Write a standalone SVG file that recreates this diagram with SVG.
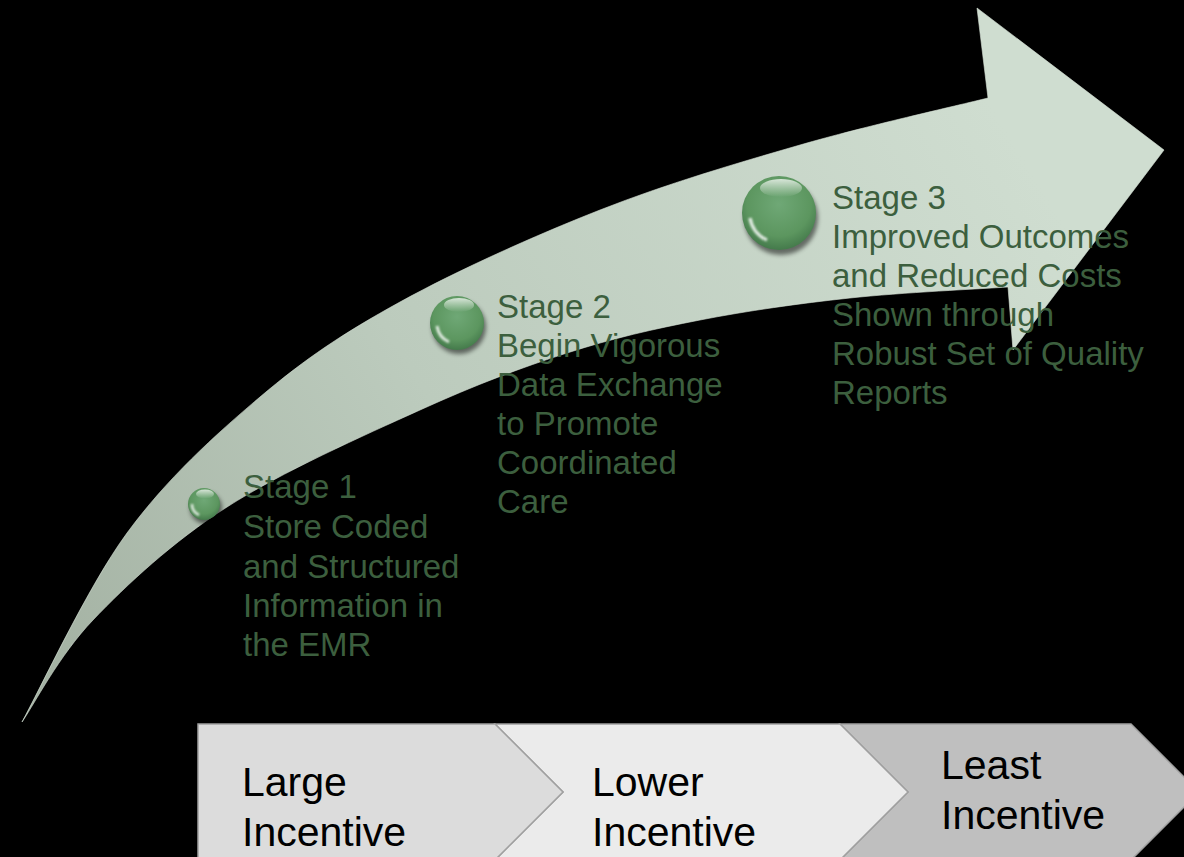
<svg xmlns="http://www.w3.org/2000/svg" width="1184" height="857" viewBox="0 0 1184 857">
  <defs>
    <linearGradient id="arrowFill" gradientUnits="userSpaceOnUse" x1="22" y1="722" x2="1000" y2="120">
      <stop offset="0" stop-color="#a2b0a1"/>
      <stop offset="0.45" stop-color="#bccbbd"/>
      <stop offset="1" stop-color="#cfddd0"/>
    </linearGradient>
    <radialGradient id="ball" cx="0.5" cy="0.38" r="0.62">
      <stop offset="0" stop-color="#6fa876"/>
      <stop offset="0.7" stop-color="#5c965f"/>
      <stop offset="1" stop-color="#447a4b"/>
    </radialGradient>
    <linearGradient id="topShine" x1="0" y1="0" x2="0" y2="1">
      <stop offset="0" stop-color="#ffffff" stop-opacity="0.75"/>
      <stop offset="1" stop-color="#ffffff" stop-opacity="0"/>
    </linearGradient>
    <filter id="shadow" x="-30%" y="-30%" width="160%" height="160%">
      <feGaussianBlur stdDeviation="2"/>
    </filter>
    <filter id="soft" x="-30%" y="-30%" width="160%" height="160%">
      <feGaussianBlur stdDeviation="0.8"/>
    </filter>
  </defs>
  <style>
    .stage { font-family: "Liberation Sans", Arial, sans-serif; font-size: 33px; fill: #3c5f3e; }
    .chev { stroke: #a0a0a0; stroke-width: 1.5; }
    .ctext { font-family: "Liberation Sans", Arial, sans-serif; font-size: 41px; fill: #000; }
  </style>

  <rect x="0" y="0" width="1184" height="857" fill="#000"/>

  <g id="arrow">
    <path fill="url(#arrowFill)" stroke="#d8e4d9" stroke-width="1" stroke-opacity="0.6"
      d="M22,722
         C39.5,690.5 87.3,587.2 127,533
         C166.7,478.8 214.5,435.5 260,397
         C305.5,358.5 343.3,333.2 400,302
         C456.7,270.8 533.3,236.2 600,210
         C666.7,183.8 735.3,163.7 800,145
         C864.7,126.3 956.7,105.8 988,98
         L977,8 L1164,150 L1013,350 L1008,287
         C981.7,288.8 901.3,292.5 850,298
         C798.7,303.5 747.2,310.8 700,320
         C652.8,329.2 613.7,338 567,353
         C520.3,368 476.7,384.3 420,410
         C363.3,435.7 281.5,472 227,507
         C172.5,542 127.2,584.2 93,620
         C58.8,655.8 33.8,705 22,722 Z"/>
  </g>

  <g id="stage1">
    <circle cx="206" cy="508" r="16" fill="#000" opacity="0.5" filter="url(#shadow)"/>
    <circle cx="204" cy="504" r="16" fill="url(#ball)"/>
    <ellipse cx="205" cy="494" rx="9" ry="4.5" fill="url(#topShine)"/>
    <path d="M192,504 A12,12 0 0 0 199,515" fill="none" stroke="#ffffff" stroke-opacity="0.8" stroke-width="2.5" filter="url(#soft)"/>
    <text class="stage" x="243" y="498">Stage 1</text>
    <text class="stage" x="243" y="538">Store Coded</text>
    <text class="stage" x="243" y="578">and Structured</text>
    <text class="stage" x="243" y="617">Information in</text>
    <text class="stage" x="243" y="656">the EMR</text>
  </g>

  <g id="stage2">
    <circle cx="459" cy="327" r="27" fill="#000" opacity="0.5" filter="url(#shadow)"/>
    <circle cx="457" cy="323" r="27" fill="url(#ball)"/>
    <ellipse cx="459" cy="305" rx="15" ry="7" fill="url(#topShine)"/>
    <path d="M437,326 A21,21 0 0 0 449,342" fill="none" stroke="#ffffff" stroke-opacity="0.8" stroke-width="3" filter="url(#soft)"/>
    <text class="stage" x="497" y="318">Stage 2</text>
    <text class="stage" x="497" y="357">Begin Vigorous</text>
    <text class="stage" x="497" y="396">Data Exchange</text>
    <text class="stage" x="497" y="435">to Promote</text>
    <text class="stage" x="497" y="474">Coordinated</text>
    <text class="stage" x="497" y="513">Care</text>
  </g>

  <g id="stage3">
    <circle cx="781" cy="218" r="37" fill="#000" opacity="0.5" filter="url(#shadow)"/>
    <circle cx="779" cy="213" r="37" fill="url(#ball)"/>
    <ellipse cx="781" cy="188" rx="21" ry="9" fill="url(#topShine)"/>
    <path d="M750,218 A29,29 0 0 0 767,240" fill="none" stroke="#ffffff" stroke-opacity="0.8" stroke-width="3.5" filter="url(#soft)"/>
    <text class="stage" x="832" y="209">Stage 3</text>
    <text class="stage" x="832" y="248">Improved Outcomes</text>
    <text class="stage" x="832" y="287">and Reduced Costs</text>
    <text class="stage" x="832" y="326">Shown through</text>
    <text class="stage" x="832" y="365">Robust Set of Quality</text>
    <text class="stage" x="832" y="404">Reports</text>
  </g>

  <g id="chevron3">
    <path class="chev" fill="#bfbfbf" d="M840,724 L1131,724 L1199,792 L1131,860 L840,860 L908,792 Z"/>
    <text class="ctext" x="941" y="779">Least</text>
    <text class="ctext" x="941" y="829">Incentive</text>
  </g>
  <g id="chevron2">
    <path class="chev" fill="#ebebeb" d="M495,724 L840,724 L908,792 L840,860 L495,860 L563,792 Z"/>
    <text class="ctext" x="592" y="796">Lower</text>
    <text class="ctext" x="592" y="846">Incentive</text>
  </g>
  <g id="chevron1">
    <path class="chev" fill="#dcdcdc" d="M198,724 L495,724 L563,792 L495,860 L198,860 Z"/>
    <text class="ctext" x="242" y="796">Large</text>
    <text class="ctext" x="242" y="846">Incentive</text>
  </g>
</svg>
